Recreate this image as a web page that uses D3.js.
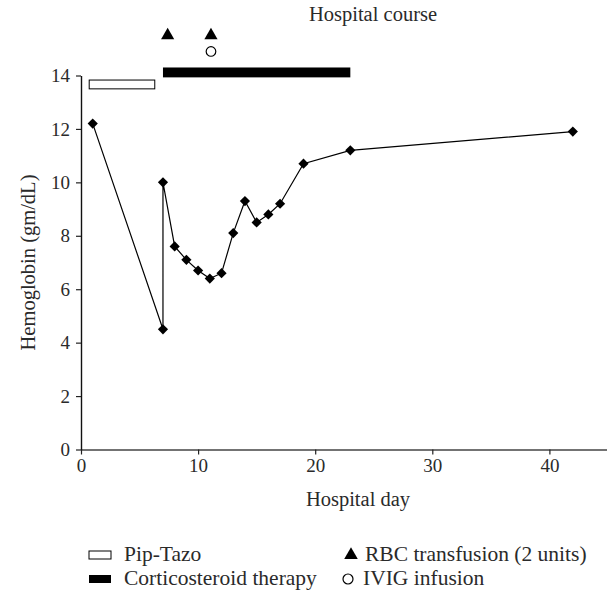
<!DOCTYPE html>
<html>
<head>
<meta charset="utf-8">
<script src="https://cdn.jsdelivr.net/npm/d3@7"></script>
<style>
  body { margin: 0; background: #fff; }
  text { font-family: "Liberation Serif", serif; fill: #2a2a2a; }
</style>
</head>
<body>
<div id="chart"></div>
<script>
// hemoglobin course
const days = [1, 7, 7, 8, 9, 10, 11, 12, 13, 14, 15, 16, 17, 19, 23, 42];
const hgb = [12.2, 4.5, 10.0, 7.6, 7.1, 6.7, 6.4, 6.6, 8.1, 9.3, 8.5, 8.8, 9.2, 10.7, 11.2, 11.9];

// treatments shown above the curve
const pipTazo = [0.7, 6.3];        // open bar, days
const steroid = [7.0, 23.0];       // filled bar, days
const rbcDays = [7.4, 11.1];
const ivigDays = [11.1];

const xTicks = [0, 10, 20, 30, 40];
const yTicks = [0, 2, 4, 6, 8, 10, 12, 14];

const width = 607, height = 600;
const x0 = 81, y0 = 449.5;

const svg = d3.select('#chart').append('svg')
    .attr('width', width)
    .attr('height', height);

const x = d3.scaleLinear().domain([0, 45]).range([x0, x0 + 45 * 11.71]);
const y = d3.scaleLinear().domain([0, 14]).range([y0, 75.5]);

// axes
const xAxis = svg.append('g')
    .attr('transform', `translate(0,${y0})`)
    .call(d3.axisBottom(x).tickValues(xTicks).tickSize(5).tickPadding(4).tickSizeOuter(0));
xAxis.select('.domain').attr('stroke', '#444').attr('stroke-width', 1.6);
xAxis.selectAll('.tick line').attr('stroke', '#222').attr('stroke-width', 1.2);
xAxis.selectAll('text').style('font-size', '19px').style('font-family', '"Liberation Serif", serif').attr('fill', '#2a2a2a');

const yAxis = svg.append('g')
    .attr('transform', `translate(${x0},0)`)
    .call(d3.axisLeft(y).tickValues(yTicks).tickSize(5).tickPadding(6).tickSizeOuter(0));
yAxis.select('.domain').attr('stroke', '#111').attr('stroke-width', 1.4);
yAxis.selectAll('.tick line').attr('stroke', '#222').attr('stroke-width', 1.2);
yAxis.selectAll('text').style('font-size', '19px').style('font-family', '"Liberation Serif", serif').attr('fill', '#2a2a2a');

// hemoglobin line + diamonds
const pts = days.map((d, i) => [d, hgb[i]]);
svg.append('path')
    .datum(pts)
    .attr('fill', 'none')
    .attr('stroke', '#000')
    .attr('stroke-width', 1.2)
    .attr('d', d3.line().x(d => x(d[0])).y(d => y(d[1])));

svg.selectAll('.pt')
    .data(pts)
    .enter().append('path')
    .attr('class', 'pt')
    .attr('d', d3.symbol(d3.symbolSquare, 52)())
    .attr('transform', d => `translate(${x(d[0])},${y(d[1])}) rotate(45)`)
    .attr('fill', '#000');

// treatment bars
svg.append('rect')
    .attr('x', x(pipTazo[0])).attr('y', y(13.83))
    .attr('width', x(pipTazo[1]) - x(pipTazo[0]))
    .attr('height', y(13.5) - y(13.83))
    .attr('fill', '#fff').attr('stroke', '#000').attr('stroke-width', 1);

svg.append('rect')
    .attr('x', x(steroid[0])).attr('y', y(14.3))
    .attr('width', x(steroid[1]) - x(steroid[0]))
    .attr('height', y(13.93) - y(14.3))
    .attr('fill', '#000');

svg.selectAll('.rbc')
    .data(rbcDays)
    .enter().append('path')
    .attr('class', 'rbc')
    .attr('d', d3.symbol(d3.symbolTriangle, 75)())
    .attr('transform', d => `translate(${x(d)},${y(15.5)})`)
    .attr('fill', '#000');

svg.selectAll('.ivig')
    .data(ivigDays)
    .enter().append('circle')
    .attr('cx', d => x(d)).attr('cy', y(14.9)).attr('r', 4.8)
    .attr('fill', '#fff').attr('stroke', '#000').attr('stroke-width', 1.2);

// titles
svg.append('text')
    .attr('x', 373).attr('y', 21)
    .attr('text-anchor', 'middle')
    .style('font-size', '20.5px')
    .text('Hospital course');

svg.append('text')
    .attr('x', 358).attr('y', 506)
    .attr('text-anchor', 'middle')
    .style('font-size', '20.5px')
    .text('Hospital day');

svg.append('text')
    .attr('transform', `translate(35,${(y(0) + y(14)) / 2}) rotate(-90)`)
    .attr('text-anchor', 'middle')
    .style('font-size', '20.5px')
    .text('Hemoglobin (gm/dL)');

// legend
const lg = svg.append('g').style('font-size', '21.5px');
lg.append('rect').attr('x', 89).attr('y', 551).attr('width', 22).attr('height', 8)
    .attr('fill', '#fff').attr('stroke', '#000').attr('stroke-width', 1);
lg.append('text').attr('x', 124).attr('y', 561).text('Pip-Tazo');
lg.append('rect').attr('x', 89).attr('y', 575).attr('width', 22).attr('height', 8)
    .attr('fill', '#000');
lg.append('text').attr('x', 124).attr('y', 585).text('Corticosteroid therapy');

lg.append('path').attr('d', d3.symbol(d3.symbolTriangle, 80)())
    .attr('transform', 'translate(351,555)').attr('fill', '#000');
lg.append('text').attr('x', 365).attr('y', 561).text('RBC transfusion (2 units)');
lg.append('circle').attr('cx', 348).attr('cy', 579).attr('r', 5)
    .attr('fill', '#fff').attr('stroke', '#000').attr('stroke-width', 1.2);
lg.append('text').attr('x', 363).attr('y', 585).text('IVIG infusion');
</script>
</body>
</html>
